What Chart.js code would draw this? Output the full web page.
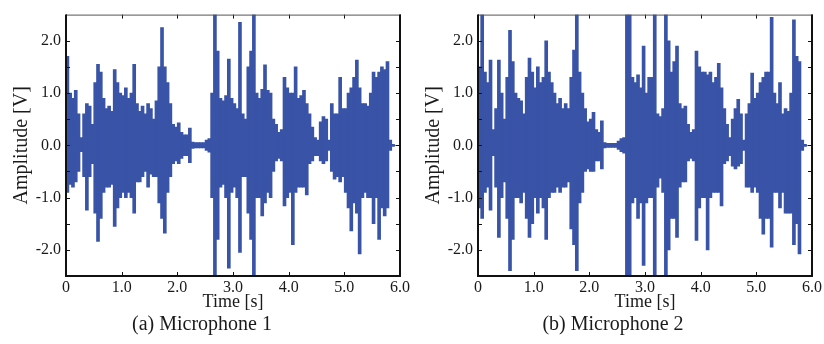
<!DOCTYPE html>
<html>
<head>
<meta charset="utf-8">
<script src="https://cdn.jsdelivr.net/npm/chart.js@4.4.1/dist/chart.umd.min.js"></script>
<style>
  html, body { margin: 0; padding: 0; background: #fff; }
  #wrap { position: relative; width: 824px; height: 344px; overflow: hidden; }
  .panel { position: absolute; top: 0; width: 412px; height: 344px; }
</style>
</head>
<body>
<div id="wrap">
  <div class="panel" style="left:0"><canvas id="micA" width="412" height="344"></canvas></div>
  <div class="panel" style="left:412px"><canvas id="micB" width="412" height="344"></canvas></div>
</div>
<script>
// ---- Data ----
// Time bin centres [s], 0.05 s bins
const timeCenters = [
  0.025,0.075,0.125,0.175,0.225,0.275,0.325,0.375,0.425,0.475,
  0.525,0.575,0.625,0.675,0.725,0.775,0.825,0.875,0.925,0.975,
  1.025,1.075,1.125,1.175,1.225,1.275,1.325,1.375,1.425,1.475,
  1.525,1.575,1.625,1.675,1.725,1.775,1.825,1.875,1.925,1.975,
  2.025,2.075,2.125,2.175,2.225,2.275,2.325,2.375,2.425,2.475,
  2.525,2.575,2.625,2.675,2.725,2.775,2.825,2.875,2.925,2.975,
  3.025,3.075,3.125,3.175,3.225,3.275,3.325,3.375,3.425,3.475,
  3.525,3.575,3.625,3.675,3.725,3.775,3.825,3.875,3.925,3.975,
  4.025,4.075,4.125,4.175,4.225,4.275,4.325,4.375,4.425,4.475,
  4.525,4.575,4.625,4.675,4.725,4.775,4.825,4.875,4.925,4.975,
  5.025,5.075,5.125,5.175,5.225,5.275,5.325,5.375,5.425,5.475,
  5.525,5.575,5.625,5.675,5.725,5.775,5.825,5.875,5.925,5.975
];

// Microphone 1: upper / lower envelope of the waveform [V]
const mic1High = [
  1.7,1.0,0.9,1.05,0.6,0.15,0.6,0.8,0.75,0.4,
  1.2,1.55,1.4,0.9,0.7,0.75,0.65,1.45,1.2,1.0,
  0.95,1.1,0.9,1.0,1.55,0.8,0.65,0.75,0.6,0.8,
  0.7,0.5,0.85,1.5,2.25,1.5,1.2,0.8,0.4,0.35,
  0.43,0.25,0.2,0.2,0.33,0.06,0.05,0.05,0.05,0.05,
  0.1,0.13,1.0,2.5,1.8,0.9,0.85,0.95,1.65,0.9,
  0.8,0.7,2.35,0.6,0.5,1.5,1.8,2.5,1.0,0.9,
  1.07,1.54,1.05,1.0,0.5,0.4,0.25,0.3,1.3,1.1,
  1.0,1.0,1.5,0.9,0.95,1.05,0.8,0.6,0.35,0.15,
  0.1,0.45,0.55,0.5,0.1,0.8,0.6,0.6,1.3,0.7,
  0.7,1.0,1.1,1.3,1.63,1.1,0.8,0.8,0.75,1.0,
  1.4,1.3,1.4,1.5,1.45,1.6,0.1,0.02,0,0
];
const mic1Low = [
  -0.9,-0.75,-0.8,-0.7,-0.5,-0.12,-0.6,-1.24,-0.6,-0.35,
  -1.3,-1.84,-1.4,-0.9,-0.8,-0.8,-0.75,-1.55,-1.2,-1.0,
  -0.9,-1.0,-0.9,-1.0,-1.3,-0.7,-0.7,-0.6,-0.5,-0.8,
  -0.55,-0.6,-0.6,-1.1,-1.4,-1.68,-0.9,-0.6,-0.35,-0.3,
  -0.35,-0.25,-0.2,-0.2,-0.33,-0.06,-0.05,-0.05,-0.05,-0.05,
  -0.1,-0.13,-1.0,-2.5,-1.8,-0.8,-0.75,-1.0,-2.35,-0.9,
  -0.8,-1.0,-2.05,-0.6,-0.6,-1.3,-1.8,-2.5,-1.0,-1.0,
  -1.35,-1.1,-0.9,-1.0,-0.5,-0.3,-0.25,-0.3,-1.16,-1.0,
  -0.9,-1.9,-0.9,-0.8,-0.8,-0.8,-0.95,-0.35,-0.3,-0.2,
  -0.2,-0.3,-0.35,-0.3,-0.1,-0.5,-0.65,-0.6,-0.7,-0.6,
  -0.9,-1.2,-1.64,-1.1,-1.3,-2.08,-1.0,-0.9,-1.0,-1.0,
  -1.5,-1.0,-1.8,-1.2,-1.35,-1.2,-0.1,-0.02,0,0
];

// Microphone 2: upper / lower envelope of the waveform [V]
const mic2High = [
  1.5,2.5,1.4,1.2,1.63,0.3,0.7,1.63,1.0,0.5,
  1.3,2.2,1.6,1.0,0.9,0.85,0.6,1.3,1.67,1.4,
  1.1,1.5,1.2,1.3,2.0,1.4,1.2,1.0,0.8,0.9,
  0.7,0.8,0.7,1.3,1.82,2.5,1.4,1.0,0.7,0.45,
  0.5,0.63,0.3,0.25,0.47,0.05,0.04,0.04,0.04,0.04,
  0.08,0.13,0.15,2.5,2.5,1.3,1.2,1.35,1.1,1.9,
  1.0,1.3,1.3,2.5,0.6,0.55,0.7,2.5,2.0,1.4,
  1.6,1.9,0.8,0.7,0.75,0.4,0.25,0.3,1.8,1.5,
  1.4,1.4,1.35,1.4,1.2,1.3,1.57,1.1,0.7,0.4,
  0.15,0.5,0.7,0.88,0.6,0.1,0.6,0.8,1.38,0.9,
  1.0,1.2,1.3,1.4,1.4,2.45,1.0,0.8,1.2,0.6,
  0.7,0.65,1.0,2.4,1.7,1.6,0.1,0.02,0,0
];
const mic2Low = [
  -1.2,-1.4,-0.9,-0.8,-1.24,-0.2,-0.8,-1.76,-1.0,-0.7,
  -1.4,-2.4,-1.8,-1.0,-1.0,-1.1,-0.9,-1.4,-1.76,-1.5,
  -1.0,-1.3,-1.0,-1.2,-1.8,-1.0,-0.9,-0.9,-0.8,-0.9,
  -0.8,-0.8,-0.7,-1.6,-1.9,-2.4,-1.1,-0.9,-0.5,-0.45,
  -0.5,-0.5,-0.3,-0.3,-0.45,-0.05,-0.04,-0.04,-0.04,-0.04,
  -0.08,-0.12,-0.15,-2.5,-2.5,-1.1,-1.0,-1.4,-1.1,-2.3,
  -1.1,-1.0,-1.0,-2.5,-0.8,-0.63,-0.9,-2.5,-2.0,-1.4,
  -1.4,-1.76,-0.8,-0.7,-0.7,-0.3,-0.25,-0.3,-1.82,-1.2,
  -1.0,-1.0,-2.0,-1.0,-0.9,-0.9,-0.9,-1.16,-0.35,-0.3,
  -0.2,-0.4,-0.45,-0.4,-0.35,-0.1,-0.8,-0.8,-0.9,-0.8,
  -0.9,-1.4,-1.7,-1.4,-1.4,-1.95,-0.9,-0.9,-1.2,-0.9,
  -1.3,-1.3,-1.3,-1.9,-1.5,-2.08,-0.1,-0.02,0,0
];

// Axis ticks
const xTickValues = [0, 1, 2, 3, 4, 5, 6];
const xTickLabels = ['0', '1.0', '2.0', '3.0', '4.0', '5.0', '6.0'];
const yTickValues = [-2, -1, 0, 1, 2];
const yTickLabels = ['-2.0', '-1.0', '0.0', '1.0', '2.0'];
const yMinorTicks = [-2, -1.5, -1, -0.5, 0, 0.5, 1, 1.5, 2];
const panelTitles = ['(a) Microphone 1', '(b) Microphone 2'];

// ---- Rendering ----
const FONT = "'Liberation Serif', 'Times New Roman', serif";
const WAVE = 'rgb(57,83,167)';
const TEXT = '#1a1a1a';

const framePlugin = {
  id: 'frame',
  afterDatasetsDraw(chart) {
    const { ctx, chartArea: a, scales } = chart;
    const xs = scales.x, ys = scales.y;
    ctx.save();
    ctx.strokeStyle = '#111';
    ctx.lineWidth = 1;
    ctx.beginPath();
    yMinorTicks.forEach(v => {
      const py = Math.round(ys.getPixelForValue(v)) + 0.5;
      ctx.moveTo(a.left, py); ctx.lineTo(a.left + 4, py);
      ctx.moveTo(a.right, py); ctx.lineTo(a.right - 4, py);
    });
    xTickValues.forEach(v => {
      const px = Math.round(xs.getPixelForValue(v)) + 0.5;
      ctx.moveTo(px, a.top); ctx.lineTo(px, a.top + 4);
      ctx.moveTo(px, a.bottom); ctx.lineTo(px, a.bottom - 4);
    });
    ctx.stroke();
    // frame
    ctx.strokeStyle = '#555';
    ctx.lineWidth = 1;
    ctx.beginPath();
    ctx.moveTo(a.left, a.top + 0.5); ctx.lineTo(a.right, a.top + 0.5);
    ctx.stroke();
    ctx.strokeStyle = '#111';
    ctx.lineWidth = 2;
    ctx.beginPath();
    ctx.moveTo(a.left, a.top); ctx.lineTo(a.left, a.bottom); ctx.lineTo(a.right, a.bottom); ctx.lineTo(a.right, a.top);
    ctx.stroke();
    ctx.restore();
  }
};

function makeChart(id, high, low, title, padRight) {
  const data = timeCenters.map((t, i) => ({ x: t, y: [low[i], high[i]] }));
  return new Chart(document.getElementById(id), {
    type: 'bar',
    data: {
      datasets: [{
        data: data,
        backgroundColor: WAVE,
        borderWidth: 0,
        barThickness: 3,
        grouped: false
      }]
    },
    options: {
      responsive: false,
      animation: false,
      devicePixelRatio: 1,
      layout: { padding: { left: 0, right: padRight, top: 12, bottom: 0 } },
      plugins: {
        legend: { display: false },
        tooltip: { enabled: false },
        title: {
          display: true,
          position: 'bottom',
          text: title,
          color: TEXT,
          font: { family: FONT, size: 20, weight: 'normal' },
          padding: { top: 0, bottom: 7 }
        }
      },
      scales: {
        x: {
          type: 'linear',
          min: 0, max: 6,
          offset: false,
          grid: { display: false, drawTicks: false },
          border: { display: false },
          afterBuildTicks: s => { s.ticks = xTickValues.map(v => ({ value: v })); },
          afterFit: s => { s.height = 37; },
          ticks: {
            autoSkip: false, maxRotation: 0, minRotation: 0,
            padding: 2,
            color: TEXT,
            font: { family: FONT, size: 16 },
            callback: (v, i) => xTickLabels[i]
          },
          title: {
            display: true,
            text: 'Time [s]',
            color: TEXT,
            font: { family: FONT, size: 18 },
            padding: { top: 0, bottom: 0 }
          }
        },
        y: {
          min: -2.5, max: 2.5,
          grid: { display: false, drawTicks: false },
          border: { display: false },
          afterBuildTicks: s => { s.ticks = yTickValues.map(v => ({ value: v })); },
          afterFit: s => { s.width = 66; },
          ticks: {
            padding: 5,
            color: TEXT,
            font: { family: FONT, size: 16 },
            callback: (v, i) => yTickLabels[i]
          },
          title: {
            display: true,
            text: 'Amplitude [V]',
            color: TEXT,
            font: { family: FONT, size: 20 },
            padding: { top: 10, bottom: 0 }
          }
        }
      }
    },
    plugins: [framePlugin]
  });
}

makeChart('micA', mic1High, mic1Low, panelTitles[0], 8);
makeChart('micB', mic2High, mic2Low, panelTitles[1], 10);
</script>
</body>
</html>
